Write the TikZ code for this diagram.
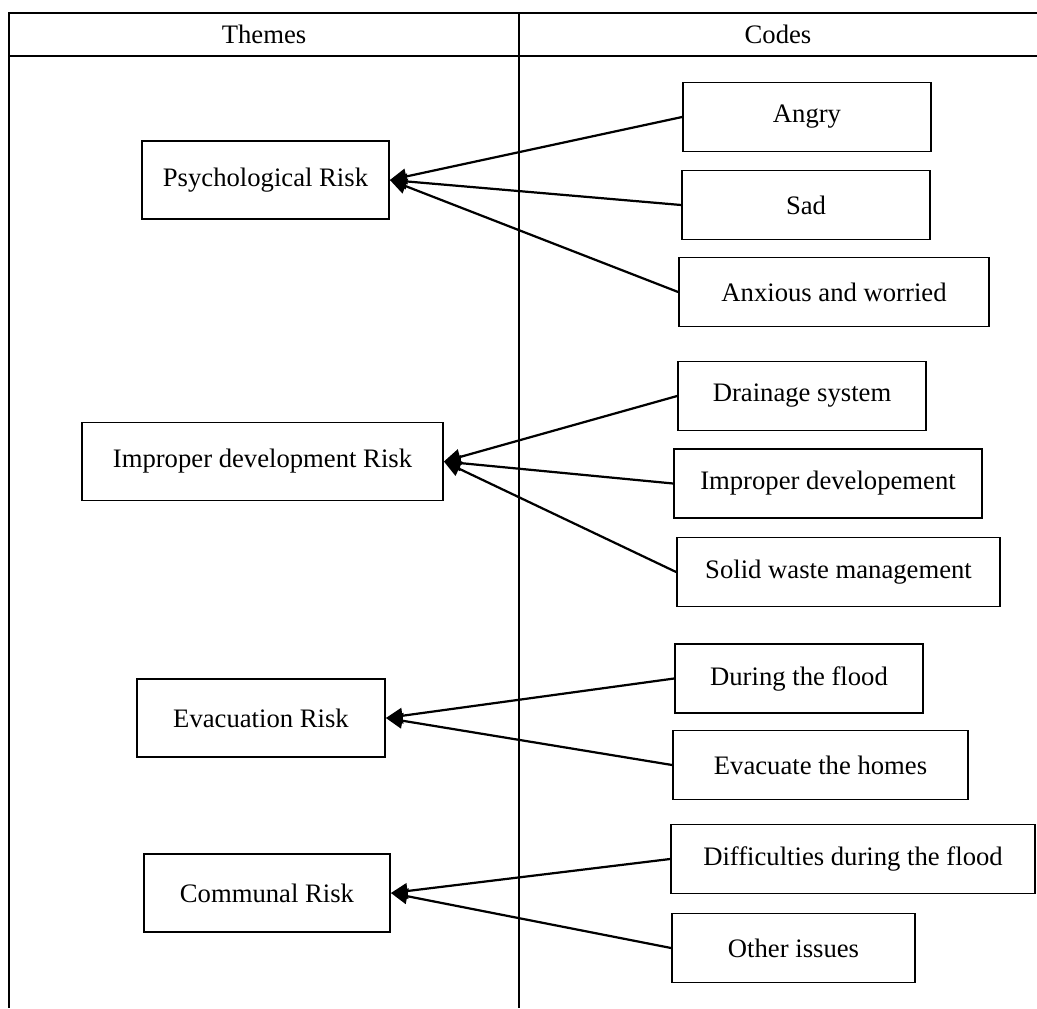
\documentclass[tikz,border=0pt]{standalone}
\usepackage{fontspec}
\setmainfont{Liberation Serif}
\usetikzlibrary{arrows.meta}

\tikzset{
  themebox/.style={draw,line width=0.8pt,minimum height=35.1pt,inner sep=0pt},
  codebox/.style={draw,line width=0.8pt,minimum height=31pt,inner sep=0pt},
  link/.style={line width=1pt,-{Triangle[length=7.5pt,width=7pt]}},
  rule/.style={line width=1pt}
}

\begin{document}
\begin{tikzpicture}[x=0.45pt,y=-0.45pt,font=\fontsize{12}{14}\selectfont]
      \useasboundingbox (0,0) rectangle (1037,1008);
      \def \Themes {
        psych/265.5/180/247/Psychological Risk,
        improp/262.5/461.5/361/Improper development Risk,
        evac/261/718/248/Evacuation Risk,
        communal/267/893/246/Communal Risk}
      \def \Codes {
        angry/807/117/248/Angry,
        sad/806/205/248/Sad,
        anxious/834/292/310/Anxious and worried,
        drain/802/396/248/Drainage system,
        impdev/828/483.5/308/Improper developement,
        solid/838.5/572/323/Solid waste management,
        during/799/678.5/248/During the flood,
        homes/820.5/765/295/Evacuate the homes,
        diff/853/859/364/Difficulties during the flood,
        other/793.5/948/243/Other issues}
      \def \Links {
        angry/psych, sad/psych, anxious/psych,
        drain/improp, impdev/improp, solid/improp,
        during/evac, homes/evac,
        diff/communal, other/communal}

      % table
      \draw[rule] (1037,13) -- (9,13) -- (9,1008);
      \draw[rule] (9,56) -- (1037,56);
      \draw[rule] (519,13) -- (519,1008);
      \node (themes) at (264,34.5) {Themes};
      \node (codes) at (778,34.5) {Codes};

      \foreach \id / \x / \y / \bw / \txt in \Themes {
        \node[themebox,minimum width=\bw*0.45pt] (\id) at (\x, \y) {\txt};
      }
      \foreach \id / \x / \y / \bw / \txt in \Codes {
        \node[codebox,minimum width=\bw*0.45pt] (\id) at (\x, \y) {\txt};
      }
      \foreach \from / \to in \Links {
        \draw[link] (\from.west) -- (\to.east);
      }
    \end{tikzpicture}
\end{document}
